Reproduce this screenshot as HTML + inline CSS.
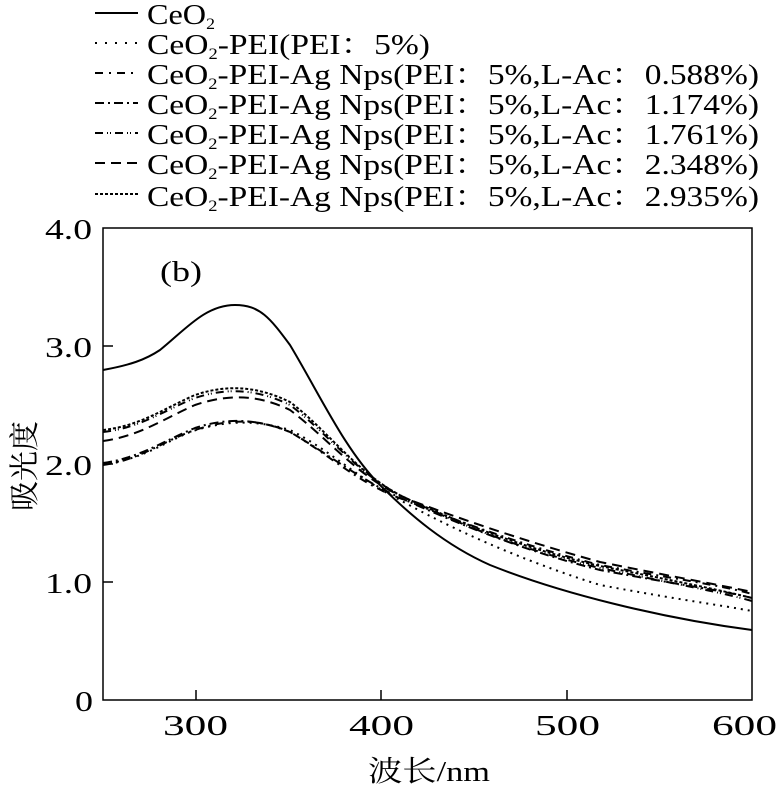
<!DOCTYPE html>
<html><head><meta charset="utf-8"><style>
body{margin:0;background:#fff}
svg{display:block;font-family:"Liberation Serif","Noto Serif CJK SC",serif}
</style></head><body>
<svg width="777" height="787" viewBox="0 0 777 787" xmlns="http://www.w3.org/2000/svg">
<g font-size="29" fill="#000">
<g stroke="#000" stroke-width="2" fill="none">
<line x1="95" y1="13" x2="138" y2="13"/>
<line x1="95" y1="43" x2="138" y2="43" stroke-dasharray="2,8"/>
<line x1="95" y1="73" x2="138" y2="73" stroke-dasharray="8,6,2,6"/>
<line x1="95" y1="103" x2="138" y2="103" stroke-dasharray="9,4,2,4"/>
<line x1="95" y1="133" x2="138" y2="133" stroke-dasharray="8,4,1,2,1,4"/>
<line x1="95" y1="163" x2="138" y2="163" stroke-dasharray="10,6"/>
<line x1="95" y1="194" x2="138" y2="194" stroke-dasharray="3,2"/>
</g>
<text x="147" y="24" textLength="68" lengthAdjust="spacingAndGlyphs">CeO<tspan font-size="16" dy="5">2</tspan></text>
<text x="147" y="54" textLength="283" lengthAdjust="spacingAndGlyphs">CeO<tspan font-size="16" dy="5">2</tspan><tspan dy="-5">-PEI(PEI：5%)</tspan></text>
<text x="147" y="84" textLength="612" lengthAdjust="spacingAndGlyphs">CeO<tspan font-size="16" dy="5">2</tspan><tspan dy="-5">-PEI-Ag Nps(PEI：5%,L-Ac：0.588%)</tspan></text>
<text x="147" y="114" textLength="612" lengthAdjust="spacingAndGlyphs">CeO<tspan font-size="16" dy="5">2</tspan><tspan dy="-5">-PEI-Ag Nps(PEI：5%,L-Ac：1.174%)</tspan></text>
<text x="147" y="144" textLength="612" lengthAdjust="spacingAndGlyphs">CeO<tspan font-size="16" dy="5">2</tspan><tspan dy="-5">-PEI-Ag Nps(PEI：5%,L-Ac：1.761%)</tspan></text>
<text x="147" y="174" textLength="612" lengthAdjust="spacingAndGlyphs">CeO<tspan font-size="16" dy="5">2</tspan><tspan dy="-5">-PEI-Ag Nps(PEI：5%,L-Ac：2.348%)</tspan></text>
<text x="147" y="206" textLength="612" lengthAdjust="spacingAndGlyphs">CeO<tspan font-size="16" dy="5">2</tspan><tspan dy="-5">-PEI-Ag Nps(PEI：5%,L-Ac：2.935%)</tspan></text>
</g>
<rect x="103" y="228" width="649" height="472" fill="none" stroke="#000" stroke-width="1.5"/>
<g stroke="#000" stroke-width="1.5">
<line x1="103" y1="346" x2="113" y2="346"/><line x1="103" y1="464" x2="113" y2="464"/><line x1="103" y1="582" x2="113" y2="582"/>
<line x1="196" y1="700" x2="196" y2="690"/><line x1="381" y1="700" x2="381" y2="690"/><line x1="567" y1="700" x2="567" y2="690"/>
</g>
<g font-size="29">
<text x="45" y="239" textLength="47" lengthAdjust="spacingAndGlyphs">4.0</text>
<text x="45" y="357" textLength="47" lengthAdjust="spacingAndGlyphs">3.0</text>
<text x="45" y="475" textLength="47" lengthAdjust="spacingAndGlyphs">2.0</text>
<text x="45" y="593" textLength="47" lengthAdjust="spacingAndGlyphs">1.0</text>
<text x="75" y="711" textLength="18" lengthAdjust="spacingAndGlyphs">0</text>
<text x="163" y="735" textLength="65" lengthAdjust="spacingAndGlyphs">300</text>
<text x="349" y="735" textLength="65" lengthAdjust="spacingAndGlyphs">400</text>
<text x="535" y="735" textLength="65" lengthAdjust="spacingAndGlyphs">500</text>
<text x="712" y="735" textLength="65" lengthAdjust="spacingAndGlyphs">600</text>
<text x="368" y="781" font-size="29" textLength="122" lengthAdjust="spacingAndGlyphs">波长/nm</text>
</g>
<text font-size="30" transform="translate(35,466) rotate(-90)" text-anchor="middle">吸光度</text>
<text x="160" y="281" font-size="28" textLength="42" lengthAdjust="spacingAndGlyphs">(b)</text>
<g fill="none" stroke="#000" stroke-width="2" stroke-linejoin="round">
<path d="M103,370 C130,365 145,360 160,350 C185,330 205,305 235,305 C260,305 270,318 290,345 C320,395 345,450 380,485 C410,515 445,545 490,565 C560,593 660,618 752,630"/>
<path stroke-dasharray="2,5" d="M103,464 C140,460 160,445 190,432 C220,422 250,418 290,430 C330,450 360,480 400,500 C450,528 520,560 600,585 C680,600 720,605 752,611"/>
<path stroke-dasharray="8,5,2,5" d="M103,465 C140,460 165,440 195,430 C225,420 255,417 290,432 C330,455 360,485 405,500 C450,518 520,545 600,565 C680,580 720,585 752,594"/>
<path stroke-dasharray="9,4,2,4" d="M103,463 C140,458 165,440 195,428 C225,418 255,418 290,432 C330,455 360,480 405,500 C450,520 520,550 600,570 C680,585 720,590 752,598"/>
<path stroke-dasharray="8,4,1,2,1,4" d="M103,432 C140,428 165,410 195,398 C225,388 255,388 290,405 C330,435 360,478 410,500 C450,520 520,550 600,568 C680,585 720,592 752,601"/>
<path stroke-dasharray="10,6" d="M103,441 C140,436 165,418 195,405 C225,395 255,393 290,410 C330,440 360,480 410,500 C450,515 520,540 600,562 C680,578 720,585 752,592"/>
<path stroke-dasharray="3,2" d="M103,430 C140,426 165,408 195,395 C225,385 255,385 290,402 C330,432 360,478 410,500 C450,518 520,548 600,566 C680,582 720,590 752,598"/>
</g>
</svg>
</body></html>
